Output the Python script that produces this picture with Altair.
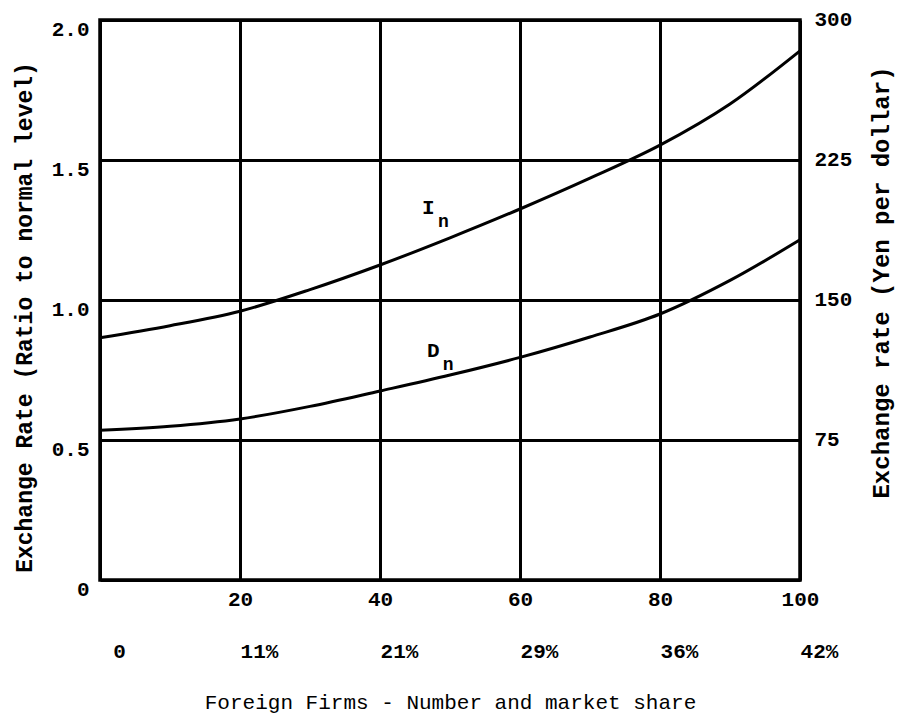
import altair as alt
import pandas as pd

# --- data ---
firms = [0, 10, 20, 30, 40, 50, 60, 70, 80, 90, 100]
i_n = [0.865, 0.908, 0.96, 1.037, 1.125, 1.222, 1.325, 1.435, 1.553, 1.70, 1.89]
d_n = [0.535, 0.549, 0.575, 0.62, 0.675, 0.732, 0.795, 0.868, 0.95, 1.07, 1.215]

firm_ticks = [0, 20, 40, 60, 80, 100]
share_labels = ["0", "11%", "21%", "29%", "36%", "42%"]
ratio_ticks = [0, 0.5, 1.0, 1.5, 2.0]
yen_ticks = [75, 150, 225, 300]

curve_letters = ["I", "D"]
letter_x = [46.9, 47.6]
letter_y = [1.329, 0.818]

FONT = "Liberation Mono"

lines_df = pd.DataFrame({
    "firms": firms * 2,
    "rate": i_n + d_n,
    "curve": ["In"] * len(firms) + ["Dn"] * len(firms),
})
letters_df = pd.DataFrame({"x": letter_x, "y": letter_y, "letter": curve_letters, "sub": ["n", "n"]})
yen_df = pd.DataFrame({"yen": yen_ticks})
share_df = pd.DataFrame({"n": firm_ticks, "share": share_labels})

xscale = alt.Scale(domain=[0, 100], nice=False, zero=False)
yscale = alt.Scale(domain=[0, 2], nice=False)

lines = alt.Chart(lines_df).mark_line(color="black", strokeWidth=3, interpolate="monotone").encode(
    x=alt.X("firms:Q", scale=xscale, axis=alt.Axis(
        orient="bottom", values=firm_ticks, title=None, grid=True, gridColor="black",
        gridWidth=3, gridOpacity=1, ticks=False, domain=False, labelPadding=8,
        labelFlush=False, labelOverlap=False,
        labelExpr="datum.value == 0 ? '' : datum.label")),
    y=alt.Y("rate:Q", scale=yscale, axis=alt.Axis(
        orient="left", values=ratio_ticks, grid=True, gridColor="black", gridWidth=3,
        gridOpacity=1, ticks=False, domain=False, labelPadding=11, labelOffset=9,
        labelFlush=False, labelOverlap=False,
        labelExpr="datum.value == 0 ? '0' : format(datum.value, '.1f')",
        title="Exchange Rate (Ratio to normal level)", titleAngle=270,
        titleBaseline="alphabetic", titleX=-69, titleY=297, titleFontSize=23)),
    detail="curve:N",
)

letters = alt.Chart(letters_df).mark_text(
    font=FONT, fontWeight="bold", fontSize=21, color="black").encode(
    x=alt.X("x:Q", scale=xscale, axis=None),
    y=alt.Y("y:Q", scale=yscale, axis=None),
    text="letter:N",
)
subs = alt.Chart(letters_df).mark_text(
    font=FONT, fontWeight="bold", fontSize=18, color="black", dx=15, dy=14).encode(
    x=alt.X("x:Q", scale=xscale, axis=None),
    y=alt.Y("y:Q", scale=yscale, axis=None),
    text="sub:N",
)

yen_layer = alt.Chart(yen_df).mark_point(opacity=0).encode(
    y=alt.Y("yen:Q", scale=alt.Scale(domain=[0, 300], nice=False), axis=alt.Axis(
        orient="right", values=yen_ticks, grid=False, ticks=False, domain=False,
        labelPadding=14, labelFlush=False, labelOverlap=False, labelOffset=-1,
        title="Exchange rate (Yen per dollar)", titleAngle=270,
        titleBaseline="alphabetic", titleX=88, titleY=262, titleFontSize=24)),
)

share_expr = "[" + ",".join("'%s'" % s for s in share_labels) + "][indexof([" + \
    ",".join(str(v) for v in firm_ticks) + "], datum.value)]"

share_layer = alt.Chart(share_df).mark_point(opacity=0).encode(
    x=alt.X("n:Q", scale=xscale, axis=alt.Axis(
        orient="bottom", offset=52, values=firm_ticks, grid=False, ticks=False,
        domain=False, labelPadding=8, labelOffset=19, labelFlush=False,
        labelOverlap=False, labelExpr=share_expr,
        title="Foreign Firms - Number and market share", titlePadding=30,
        titleFontSize=21, titleFontWeight="normal")),
)

chart = alt.layer(lines, letters, subs, yen_layer, share_layer).resolve_scale(
    x="independent", y="independent"
).properties(
    width=700, height=560,
    autosize=alt.AutoSizeParams(type="none"),
    padding={"left": 92, "top": 12, "right": 98, "bottom": 139},
    background="white",
).configure_view(
    stroke="black", strokeWidth=3.5
).configure_axis(
    labelFont=FONT, labelFontSize=21, labelFontWeight="bold", labelColor="black",
    titleFont=FONT, titleFontSize=21, titleFontWeight="bold", titleColor="black",
)

chart.save("out.html", embed_options={"renderer": "svg", "actions": False})
